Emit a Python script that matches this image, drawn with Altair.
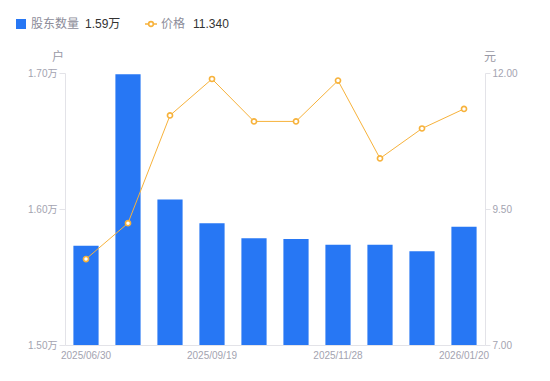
import altair as alt
import pandas as pd

dates = ["2025/06/30", "2025/07/31", "2025/08/29", "2025/09/19", "2025/09/30",
         "2025/10/31", "2025/11/28", "2025/12/10", "2025/12/31", "2026/01/20"]
holders = [15730, 16990, 16070, 15895, 15785, 15780, 15737, 15737, 15690, 15870]
prices = [8.58, 9.24, 11.22, 11.89, 11.11, 11.11, 11.86, 10.43, 10.98, 11.34]
tick_dates = [dates[0], dates[3], dates[6], dates[9]]

FONT = "Liberation Sans, Noto Sans CJK SC"
BLUE = "#2777F4"
ORANGE = "#F7B23B"
GRAY = "#A3A3B0"

df = pd.DataFrame({"date": dates, "holders": holders, "price": prices})

x = alt.X("date:N", sort=dates, title=None,
          scale=alt.Scale(paddingInner=0.4, paddingOuter=0.2),
          axis=alt.Axis(values=tick_dates, labelAngle=0, ticks=False, domainColor="#E3E3E8",
                        labelColor=GRAY, labelFontSize=10, labelPadding=5, labelFont=FONT))

bars = alt.Chart(df).mark_bar(color=BLUE, clip=True).encode(
    x=x,
    y=alt.Y("holders:Q", title=None,
            scale=alt.Scale(domain=[15000, 17000], zero=False, nice=False),
            axis=alt.Axis(values=[15000, 16000, 17000], grid=False,
                          labelExpr="format(datum.value/10000, '.2f') + '万'",
                          domainColor="#E3E3E8", tickColor="#E3E3E8", tickSize=6,
                          labelColor=GRAY, labelFontSize=10, labelPadding=2, labelFont=FONT)),
)

line = alt.Chart(df).mark_line(color=ORANGE, strokeWidth=1).encode(
    x=alt.X("date:N", sort=dates),
    y=alt.Y("price:Q", title=None,
            scale=alt.Scale(domain=[7, 12], zero=False, nice=False),
            axis=alt.Axis(orient="right", values=[7, 9.5, 12], format=".2f", grid=False,
                          domainColor="#E3E3E8", tickColor="#E3E3E8", tickSize=5,
                          labelColor=GRAY, labelFontSize=10, labelPadding=2, labelFont=FONT)),
)
pts = alt.Chart(df).mark_point(shape="circle", filled=True, fill="white", stroke=ORANGE,
                               strokeWidth=1.6, size=26, opacity=1).encode(
    x=alt.X("date:N", sort=dates),
    y=alt.Y("price:Q", scale=alt.Scale(domain=[7, 12], zero=False, nice=False)),
)

dummy = pd.DataFrame({"a": [0]})
base = alt.Chart(dummy)

def txt(s, xv, yv, color, size=12, align="left"):
    return base.mark_text(text=s, color=color, fontSize=size, font=FONT, align=align,
                          baseline="middle").encode(x=alt.value(xv), y=alt.value(yv))

legend = [
    base.mark_square(color=BLUE, size=100, opacity=1, cornerRadius=1).encode(
        x=alt.value(-44), y=alt.value(-49)),
    txt("股东数量", -34, -49, "#8C8C99"),
    txt("1.59万", 20, -49, "#333333"),
    base.mark_rule(color=ORANGE, strokeWidth=1.5).encode(
        x=alt.value(80), x2=alt.value(92), y=alt.value(-49)),
    base.mark_point(shape="circle", filled=True, fill="white", stroke=ORANGE,
                    strokeWidth=1.6, size=22, opacity=1).encode(x=alt.value(86), y=alt.value(-49)),
    txt("价格", 96, -49, "#8C8C99"),
    txt("11.340", 128, -49, "#333333"),
    txt("户", -7, -16, "#9A9AA6", align="center"),
    txt("元", 425, -16, "#9A9AA6", align="center"),
]

left = alt.layer(bars)
right = alt.layer(line, pts)
chart = alt.layer(left, right, *legend).resolve_scale(y="independent").properties(
    width=420, height=272,
    autosize=alt.AutoSizeParams(type="none"),
    padding={"left": 57, "top": 65, "right": 50, "bottom": 22},
).configure_view(stroke=None)

chart.save("out.html", embed_options={"renderer": "svg", "actions": False})
